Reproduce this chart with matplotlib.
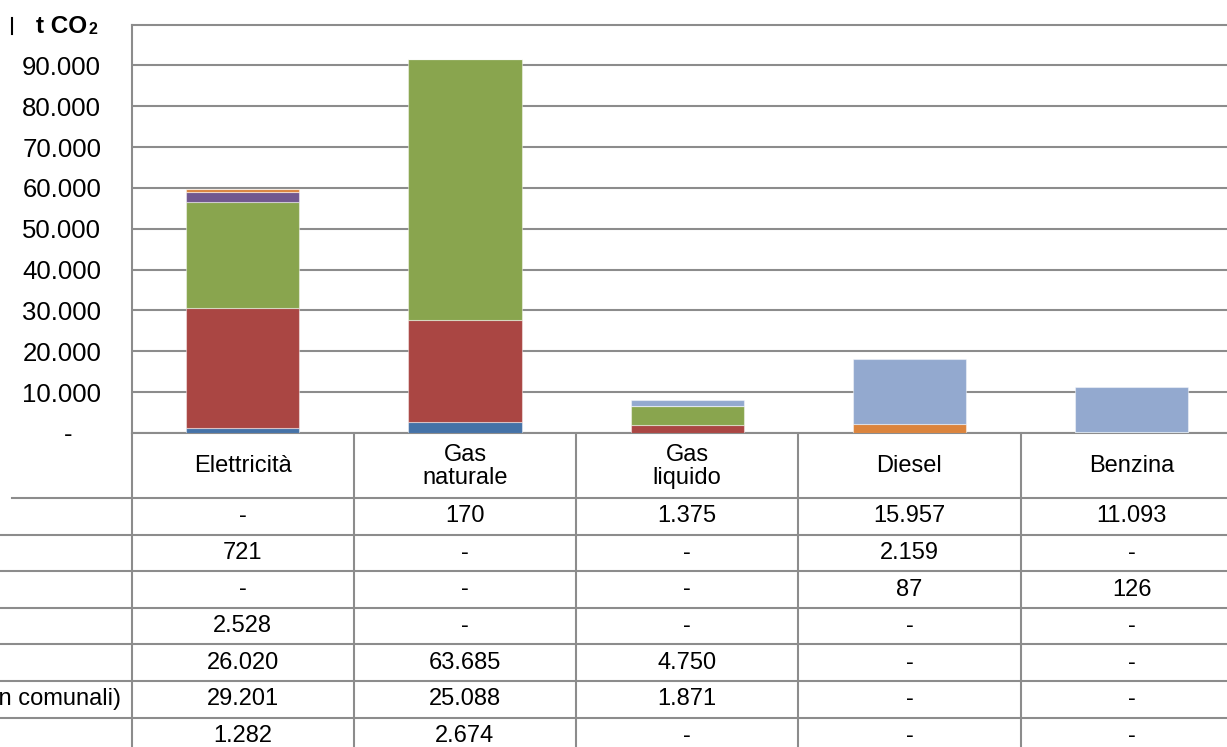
import matplotlib
matplotlib.use("Agg")
import matplotlib.pyplot as plt
import numpy as np
from matplotlib.lines import Line2D

plt.rcParams['font.family'] = ['Liberation Sans', 'DejaVu Sans']

# ---------------- data ----------------
categories = ['Elettricità', 'Gas\nnaturale', 'Gas\nliquido', 'Diesel', 'Benzina']

series_names = [
    'Edifici, attrezzature/impianti comunali',
    'Edifici, attrezzature/impianti terziari (non comunali)',
    'Edifici residenziali',
    'Illuminazione pubblica comunale',
    'Parco auto comunale',
    'Trasporti pubblici',
    'Trasporti privati e commerciali',
]
s_comunali      = [1282, 2674, 0, 0, 0]
s_terziari      = [29201, 25088, 1871, 0, 0]
s_residenziali  = [26020, 63685, 4750, 0, 0]
s_illuminazione = [2528, 0, 0, 0, 0]
s_parco_auto    = [0, 0, 0, 87, 126]
s_trasp_pubb    = [721, 0, 0, 2159, 0]
s_trasp_priv    = [0, 170, 1375, 15957, 11093]
series_values = [s_comunali, s_terziari, s_residenziali, s_illuminazione,
                 s_parco_auto, s_trasp_pubb, s_trasp_priv]
colors = ['#4572A7', '#AA4643', '#89A54E', '#71588F', '#4198AF', '#DB843D', '#93A9CF']

y_ticks = list(range(0, 100000, 10000))
y_max = 100000
y_label = 't CO'

# ---------------- layout ----------------
W, H = 1227, 747
fig = plt.figure(figsize=(W / 100, H / 100), dpi=100)
fig.patch.set_facecolor('white')

ax_left, ax_top, ax_bot = 131.7, 24.5, 433.0
col_w = 222.2
n = len(categories)
ax = fig.add_axes([ax_left / W, 1 - ax_bot / H, n * col_w / W, (ax_bot - ax_top) / H])

grid_c = '#8C8C8C'
x = np.arange(n)
bottom = np.zeros(n)
for vals, c in zip(series_values, colors):
    v = np.array(vals, dtype=float)
    ax.bar(x, v, 0.51, bottom=bottom, color=c, edgecolor=(1, 1, 1, 0.45),
           linewidth=0.8, zorder=3)
    bottom += v

ax.set_xlim(-0.5, n - 0.5)
ax.set_ylim(0, y_max)
ax.set_yticks(y_ticks)

def fmt(v):
    if v == 0:
        return '-'
    return f'{int(v):,}'.replace(',', '.')

ax.set_yticklabels(['-    ' if v == 0 else fmt(v) for v in y_ticks], fontsize=18.5)
ax.tick_params(axis='y', length=0, pad=22)
ax.set_xticks([])
ax.yaxis.grid(True, color=grid_c, linewidth=1.5, zorder=0)
for s in ['left', 'top', 'bottom', 'right']:
    ax.spines[s].set_color(grid_c)
    ax.spines[s].set_linewidth(1.5)

# y-axis title
fig.text(36 / W, 1 - 26.5 / H, y_label, fontsize=17.5, fontweight='bold',
         ha='left', va='center')
fig.text(88.5 / W, 1 - 30 / H, '2', fontsize=11.5, fontweight='bold',
         ha='left', va='center')
fig.add_artist(Line2D([12 / W, 12 / W], [1 - 18 / H, 1 - 34 / H], color='black', lw=1.5))

# ---------------- data table ----------------
tax = fig.add_axes([0, 0, 1, 1])
tax.set_xlim(0, W)
tax.set_ylim(H, 0)
tax.axis('off')

header_bot = 498.0
row_h = 36.6
rows_order = list(range(len(series_values)))[::-1]  # top row = top series
n_rows = len(rows_order)

# vertical lines
for k in range(n + 1):
    xx = ax_left + k * col_w
    tax.plot([xx, xx], [ax_bot, H + 5], color=grid_c, lw=1.5, solid_capstyle='butt')
# horizontal lines
tax.plot([12, W + 20], [header_bot, header_bot], color=grid_c, lw=1.5)
for r in range(1, n_rows + 1):
    yy = header_bot + r * row_h
    tax.plot([-5, W + 20], [yy, yy], color=grid_c, lw=1.5)

# header labels
for i, cat in enumerate(categories):
    cx = ax_left + (i + 0.5) * col_w
    tax.text(cx, (ax_bot + header_bot) / 2 + 1, cat, ha='center', va='center',
             fontsize=17, linespacing=1.05, multialignment='center')

# values
for r, si in enumerate(rows_order):
    cy = header_bot + (r + 0.5) * row_h
    for i in range(n):
        cx = ax_left + (i + 0.5) * col_w
        tax.text(cx, cy, fmt(series_values[si][i]), ha='center', va='center', fontsize=17)

# row labels (left aligned, mostly cut off by the figure edge as in the reference)
longest = max(range(len(series_names)), key=lambda k: len(series_names[k]))
r_long = rows_order.index(longest)
t_long = tax.text(120.7, header_bot + (r_long + 0.5) * row_h, series_names[longest],
                  ha='right', va='center', fontsize=17)
fig.canvas.draw()
x0_disp = t_long.get_window_extent(renderer=fig.canvas.get_renderer()).x0
x0 = tax.transData.inverted().transform((x0_disp, 0))[0]
for r, si in enumerate(rows_order):
    if si == longest:
        continue
    tax.text(x0, header_bot + (r + 0.5) * row_h, series_names[si],
             ha='left', va='center', fontsize=17)

fig.savefig('out.png', dpi=100)
